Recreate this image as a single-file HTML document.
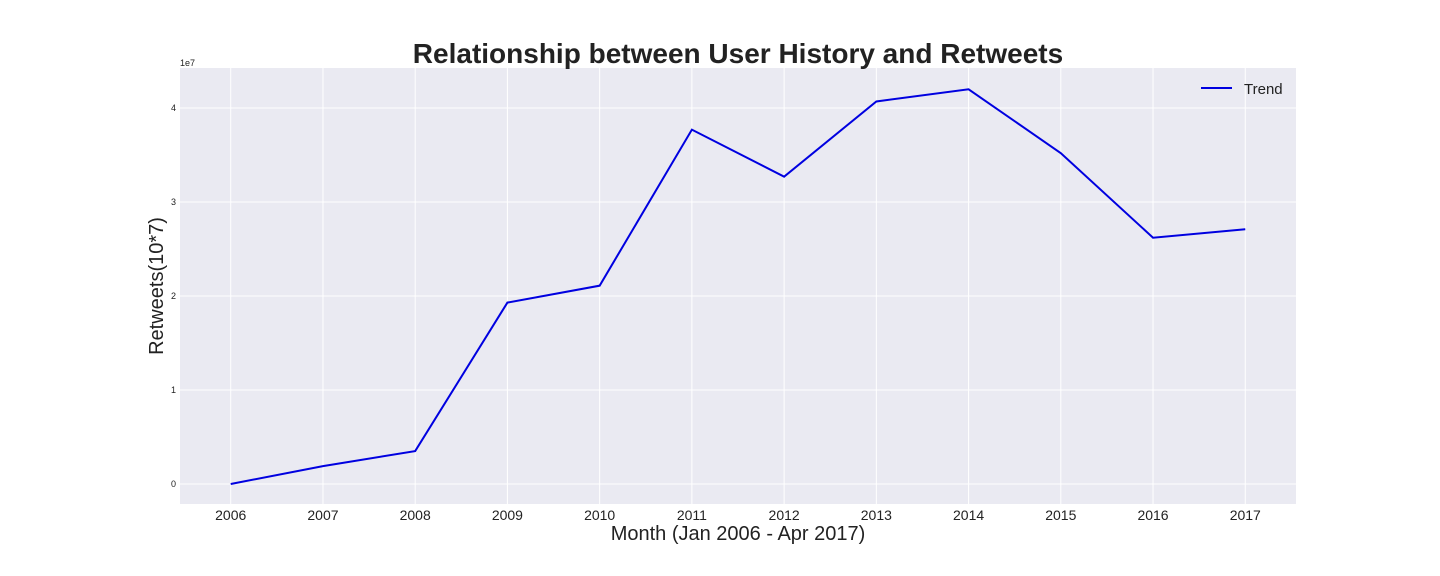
<!DOCTYPE html>
<html><head><meta charset="utf-8"><style>
body{margin:0;background:#fff;}
svg{display:block;font-family:"Liberation Sans","DejaVu Sans",sans-serif;}
</style></head><body>
<svg id="chart" width="1440" height="576">
<rect x="180" y="68" width="1116" height="436" fill="#eaeaf2"/>
<g id="grid"></g>
<g id="ticks"></g>
<path id="trend" fill="none" stroke="#0000e0" stroke-width="2"/>
<text x="738" y="63" text-anchor="middle" font-size="28" font-weight="bold" fill="#222">Relationship between User History and Retweets</text>
<text x="180" y="66" font-size="9" fill="#222">1e7</text>
<text x="738" y="540" text-anchor="middle" font-size="20" fill="#222">Month (Jan 2006 - Apr 2017)</text>
<text transform="translate(163,286) rotate(-90)" text-anchor="middle" font-size="20" fill="#222">Retweets(10*7)</text>
<g>
<line x1="1201" y1="88" x2="1232" y2="88" stroke="#0000e0" stroke-width="2"/>
<text x="1244" y="94" font-size="15" fill="#222">Trend</text>
</g>
</svg>
<script>
const years=[2006,2007,2008,2009,2010,2011,2012,2013,2014,2015,2016,2017];
const retweets=[0.0,0.19,0.35,1.93,2.11,3.77,3.27,4.07,4.20,3.52,2.62,2.71];
const yTicks=[0,1,2,3,4];
const x0=180,x1=1296,y0=504,y1=68;
const xMin=years[0]-0.55,xMax=years[years.length-1]+0.55,yMin=-0.213,yMax=4.426;
function sx(v){return x0+(v-xMin)/(xMax-xMin)*(x1-x0);}
function sy(v){return y0-(v-yMin)/(yMax-yMin)*(y0-y1);}
const ns="http://www.w3.org/2000/svg";
const grid=document.getElementById('grid'),ticks=document.getElementById('ticks');
years.forEach(y=>{
 const l=document.createElementNS(ns,'line');
 l.setAttribute('x1',sx(y));l.setAttribute('x2',sx(y));l.setAttribute('y1',y1);l.setAttribute('y2',y0);
 l.setAttribute('stroke','#fff');l.setAttribute('stroke-width','1');
 
 
 grid.appendChild(l);
 const t=document.createElementNS(ns,'text');
 t.setAttribute('x',sx(y));t.setAttribute('y',520);t.setAttribute('text-anchor','middle');
 t.setAttribute('font-size','14');t.setAttribute('fill','#222');t.textContent=y;
 
 
 ticks.appendChild(t);
});
yTicks.forEach(v=>{
 const l=document.createElementNS(ns,'line');
 l.setAttribute('x1',x0);l.setAttribute('x2',x1);l.setAttribute('y1',sy(v));l.setAttribute('y2',sy(v));
 l.setAttribute('stroke','#fff');l.setAttribute('stroke-width','1');
 
 
 grid.appendChild(l);
 const t=document.createElementNS(ns,'text');
 t.setAttribute('x',176);t.setAttribute('y',sy(v)+3);t.setAttribute('text-anchor','end');
 t.setAttribute('font-size','9');t.setAttribute('fill','#222');t.textContent=v;
 
 
 ticks.appendChild(t);
});
document.getElementById('trend').setAttribute('d',years.map((y,i)=>(i?'L':'M')+sx(y)+','+sy(retweets[i])).join(' '));
</script>
</body></html>
